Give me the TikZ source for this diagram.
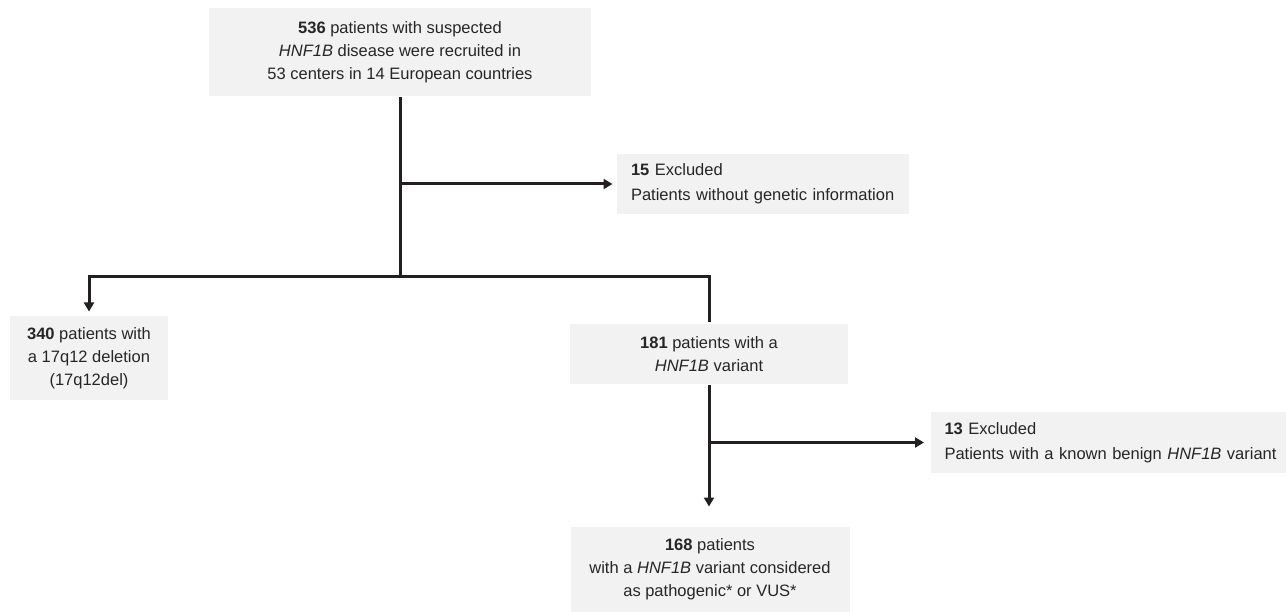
\documentclass[tikz,border=0pt]{standalone}
\usepackage{fontspec}
\setmainfont{Liberation Sans}
\usepackage{tikz}
\usetikzlibrary{arrows.meta}

\definecolor{boxgray}{HTML}{F1F2F1}
\definecolor{linegray}{HTML}{231F20}

\begin{document}
\begin{tikzpicture}[x=1pt,y=-1pt,>={Triangle[length=9pt,width=10pt]},
                    line width=3pt,draw=linegray]
\tikzstyle{box}=[fill=boxgray,draw=none,inner sep=0pt,align=center,text=black!85]
\tikzstyle{exbox}=[box,align=left,inner xsep=14pt,font=\fontsize{16.5pt}{25pt}\selectfont]
\tikzset{font=\fontsize{16.5pt}{23pt}\selectfont}

\useasboundingbox (0,0) rectangle (1286,612);

        \node[box,minimum width=382pt,minimum height=88pt]   (recruited) at (400,52)
            {\textbf{536} patients with suspected\\ \textit{HNF1B} disease were recruited in\\ 53 centers in 14 European countries};
        \node[exbox,text width=264pt,minimum height=60pt]    (nogen) at (763,184)
            {\textbf{15} Excluded\\ Patients without genetic information};
        \node[box,minimum width=158pt,minimum height=84pt]   (deletion) at (89,358)
            {\textbf{340} patients with\\ a 17q12 deletion\\ (17q12del)};
        \node[box,minimum width=278pt,minimum height=60pt]   (variant) at (709,354)
            {\textbf{181} patients with a\\ \textit{HNF1B} variant};
        \node[exbox,text width=345pt,minimum height=61pt,anchor=west] (benign) at (929,442.5)
            {\textbf{13} Excluded\\ Patients with a known benign \textit{HNF1B} variant};
        \node[box,minimum width=279pt,minimum height=85pt]   (pathogenic) at (710,569.5)
            {\textbf{168} patients\\ with a \textit{HNF1B} variant considered\\ as pathogenic* or VUS*};

        \coordinate (split) at (400,277);

        % main stem
        \draw (recruited.south) -- (split);
        \draw[->,shorten >=3pt] (recruited.south |- nogen.west) -- (nogen.west);
        \draw[->,shorten >=3pt] (split) -| (deletion.north);
        \draw (split) -| (variant.north);

        % variant branch
        \draw[->,shorten >=19pt] (variant.south) -- (variant.south |- pathogenic.north);
        \draw[->,shorten >=5pt] (variant.south |- benign.west) -- (benign.west);

\end{tikzpicture}
\end{document}
